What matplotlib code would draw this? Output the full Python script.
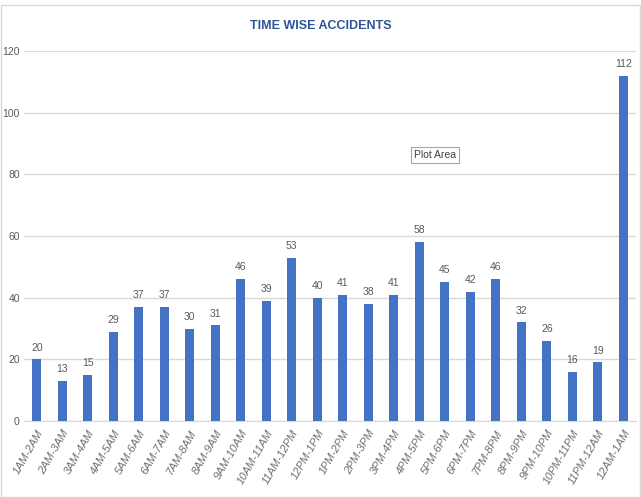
import matplotlib
matplotlib.use("Agg")
import matplotlib.pyplot as plt
from matplotlib import font_manager
from matplotlib.patches import Rectangle

hours = ["1AM-2AM", "2AM-3AM", "3AM-4AM", "4AM-5AM", "5AM-6AM", "6AM-7AM",
         "7AM-8AM", "8AM-9AM", "9AM-10AM", "10AM-11AM", "11AM-12PM", "12PM-1PM",
         "1PM-2PM", "2PM-3PM", "3PM-4PM", "4PM-5PM", "5PM-6PM", "6PM-7PM",
         "7PM-8PM", "8PM-9PM", "9PM-10PM", "10PM-11PM", "11PM-12AM", "12AM-1AM"]
accidents = [20, 13, 15, 29, 37, 37, 30, 31, 46, 39, 53, 40,
             41, 38, 41, 58, 45, 42, 46, 32, 26, 16, 19, 112]
y_ticks = [0, 20, 40, 60, 80, 100, 120]

names = {f.name for f in font_manager.fontManager.ttflist}
narrow = "Liberation Sans Narrow" if "Liberation Sans Narrow" in names else "Liberation Sans"
plt.rcParams["font.family"] = [narrow, "DejaVu Sans"]

W, H = 641, 497
fig = plt.figure(figsize=(W / 100, H / 100), dpi=100)
ax = fig.add_axes([24 / W, 1 - 421 / H, (636 - 24) / W, (421 - 51) / H])

x = list(range(len(hours)))
bar_color = "#4472C4"
ax.bar(x, accidents, width=0.36, color=bar_color, zorder=3)

for xi, v in zip(x, accidents):
    ax.text(xi, v + 2.2, str(v), ha="center", va="bottom", fontsize=7.5,
            color="#595959")

ax.set_xlim(-0.5, len(hours) - 0.5)
ax.set_ylim(0, 120)
ax.set_yticks(y_ticks)
ax.set_yticklabels([str(t) for t in y_ticks], fontsize=7.5, color="#595959")
ax.yaxis.grid(True, color="#D9D9D9", linewidth=1, zorder=0)
ax.tick_params(axis="y", length=0, pad=3)
ax.tick_params(axis="x", length=0, pad=5)
ax.set_xticks(x)
ax.set_xticklabels(hours, rotation=60, ha="right", rotation_mode="anchor",
                   fontsize=8, color="#6F6F6F", style="italic")
for s in ["top", "right", "left"]:
    ax.spines[s].set_visible(False)
ax.spines["bottom"].set_color("#D9D9D9")

fig.text(0.5, 1 - 26 / H, "TIME WISE ACCIDENTS", ha="center", va="center",
         fontsize=9, fontweight="bold", color="#2F5597")

# hover tooltip over the plot area
fig.text(435 / W, 1 - 155 / H, "Plot Area", ha="center", va="center",
         fontsize=7.5, color="#404040",
         bbox=dict(boxstyle="square,pad=0.3", facecolor="white",
                   edgecolor="#A6A6A6", linewidth=0.8))

# chart frame
fig.add_artist(Rectangle((1 / W, 0), 1 - 2 / W, 1 - 5 / H, transform=fig.transFigure,
                         fill=False, edgecolor="#D9D9D9", linewidth=1))

fig.savefig("out.png", dpi=100)
